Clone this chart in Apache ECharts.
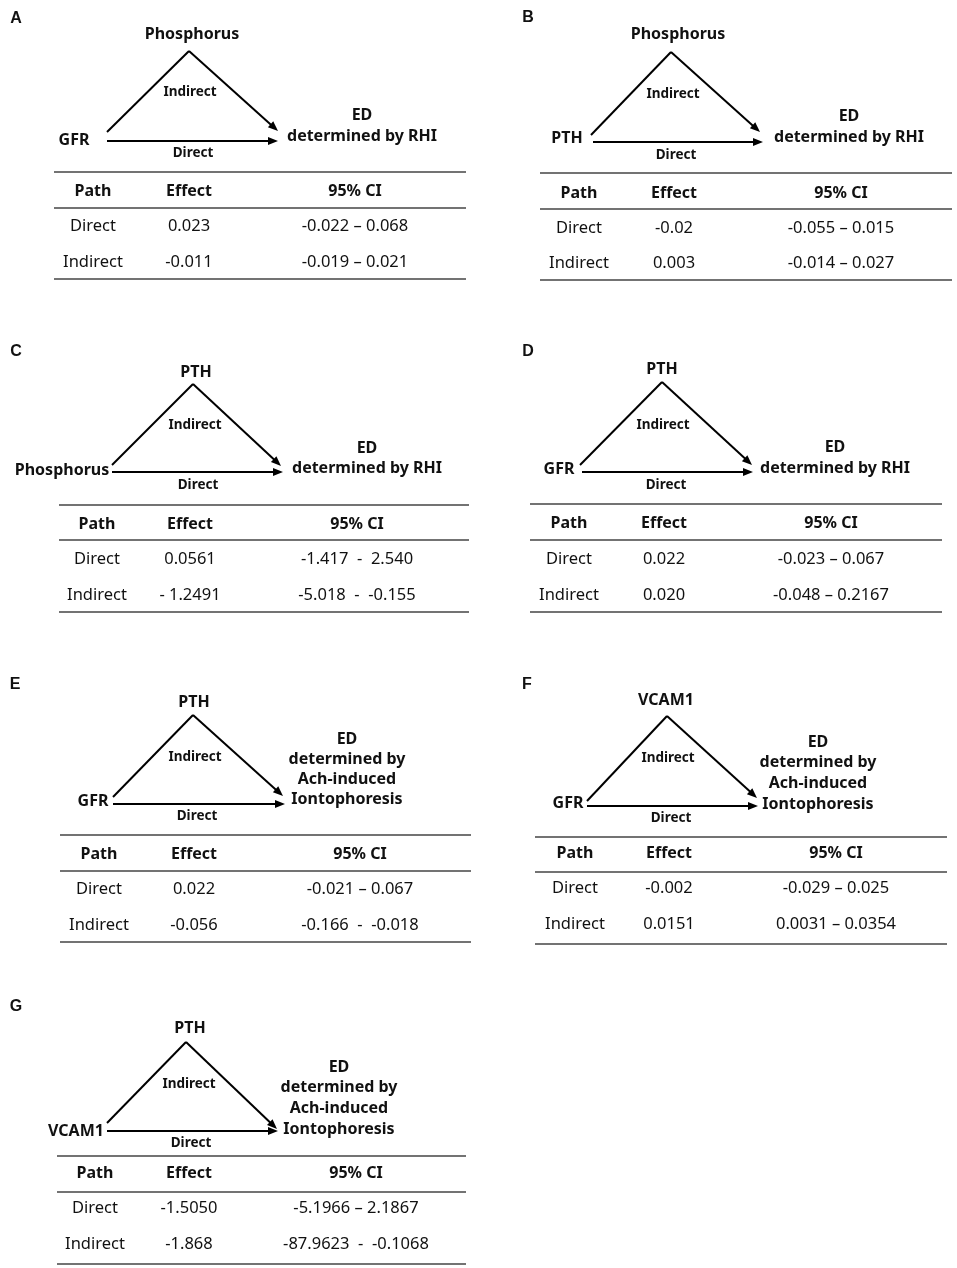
<!DOCTYPE html>
<html>
<head>
<meta charset="utf-8">
<script src="https://cdn.jsdelivr.net/npm/echarts@6/dist/echarts.min.js"></script>
<style>
  html, body { margin: 0; padding: 0; background: #fff; }
  #main { width: 957px; height: 1268px; }
</style>
</head>
<body>
<div id="main"></div>
<script>
// data for the seven mediation panels
var panelIds = ['A', 'B', 'C', 'D', 'E', 'F', 'G'];
var exposures = ['GFR', 'PTH', 'Phosphorus', 'GFR', 'GFR', 'GFR', 'VCAM1'];
var mediators = ['Phosphorus', 'Phosphorus', 'PTH', 'PTH', 'PTH', 'VCAM1', 'PTH'];
var outcomeRHI = 'ED\ndetermined by RHI';
var outcomeAch = 'ED\ndetermined by\nAch-induced\nIontophoresis';
var outcomes = [outcomeRHI, outcomeRHI, outcomeRHI, outcomeRHI, outcomeAch, outcomeAch, outcomeAch];
var pathNames = ['Direct', 'Indirect'];
var tableHeaders = ['Path', 'Effect', '95% CI'];
var directEffects = ['0.023', '-0.02', '0.0561', '0.022', '0.022', '-0.002', '-1.5050'];
var indirectEffects = ['-0.011', '0.003', '- 1.2491', '0.020', '-0.056', '0.0151', '-1.868'];
var directCI = ['-0.022 \u2013 0.068', '-0.055 \u2013 0.015', '-1.417  -  2.540', '-0.023 \u2013 0.067',
                '-0.021 \u2013 0.067', '-0.029 \u2013 0.025', '-5.1966 \u2013 2.1867'];
var indirectCI = ['-0.019 \u2013 0.021', '-0.014 \u2013 0.027', '-5.018  -  -0.155', '-0.048 \u2013 0.2167',
                  '-0.166  -  -0.018', '0.0031 \u2013 0.0354', '-87.9623  -  -0.1068'];

// layout of each panel (pixels)
var layout = [
  { letter: [16, 19], med: [192, 34], apex: [189, 51], left: [107, 132], diagEnd: [278, 131],
    dirY: 141, dirX: [107, 278], expo: [74, 140], ind: [190, 92], dir: [193, 153], out: [362, 115], lh: 21,
    tx: [54, 466], top: 172, hdr: 191, mid: 208, r1: 226, r2: 262, bot: 279, cols: [93, 189, 355] },
  { letter: [528, 18], med: [678, 34], apex: [671, 52], left: [591, 135], diagEnd: [760, 132],
    dirY: 142, dirX: [593, 763], expo: [567, 138], ind: [673, 94], dir: [676, 155], out: [849, 116], lh: 21,
    tx: [540, 952], top: 173, hdr: 193, mid: 209, r1: 228, r2: 263, bot: 280, cols: [579, 674, 841] },
  { letter: [16, 352], med: [196, 372], apex: [193, 384], left: [112, 465], diagEnd: [281, 466],
    dirY: 472, dirX: [112, 283], expo: [62, 470], ind: [195, 425], dir: [198, 485], out: [367, 448], lh: 20,
    tx: [59, 469], top: 505, hdr: 524, mid: 540, r1: 559, r2: 595, bot: 612, cols: [97, 190, 357] },
  { letter: [528, 352], med: [662, 369], apex: [662, 382], left: [580, 465], diagEnd: [752, 465],
    dirY: 472, dirX: [582, 753], expo: [559, 469], ind: [663, 425], dir: [666, 485], out: [835, 447], lh: 21,
    tx: [530, 942], top: 504, hdr: 523, mid: 540, r1: 559, r2: 595, bot: 612, cols: [569, 664, 831] },
  { letter: [15, 685], med: [194, 702], apex: [193, 715], left: [113, 797], diagEnd: [283, 796],
    dirY: 804, dirX: [113, 285], expo: [93, 801], ind: [195, 757], dir: [197, 816], out: [347, 739], lh: 20.3,
    tx: [60, 471], top: 835, hdr: 854, mid: 871, r1: 889, r2: 925, bot: 942, cols: [99, 194, 360] },
  { letter: [527, 685], med: [666, 700], apex: [667, 716], left: [587, 801], diagEnd: [757, 798],
    dirY: 806, dirX: [587, 758], expo: [568, 803], ind: [668, 758], dir: [671, 818], out: [818, 742], lh: 20.7,
    tx: [535, 947], top: 837, hdr: 853, mid: 872, r1: 888, r2: 924, bot: 944, cols: [575, 669, 836] },
  { letter: [16, 1007], med: [190, 1028], apex: [186, 1042], left: [107, 1123], diagEnd: [277, 1129],
    dirY: 1131, dirX: [107, 278], expo: [76, 1131], ind: [189, 1084], dir: [191, 1143], out: [339, 1067], lh: 20.7,
    tx: [57, 466], top: 1156, hdr: 1173, mid: 1192, r1: 1208, r2: 1244, bot: 1264, cols: [95, 189, 356] }
];

var FONT = '"Noto Sans", "Open Sans", sans-serif';
var INK = '#111';

function txt(s, x, y, size, weight, family, align) {
  return {
    type: 'text', silent: true,
    style: {
      text: s, x: x, y: y, fill: INK,
      fontSize: size, fontWeight: weight, fontFamily: family || FONT,
      textAlign: align || 'center', textVerticalAlign: 'middle'
    }
  };
}

function seg(x1, y1, x2, y2, color, w) {
  return {
    type: 'line', silent: true,
    shape: { x1: x1, y1: y1, x2: x2, y2: y2 },
    style: { stroke: color, lineWidth: w }
  };
}

// line with a filled arrow head at the end
function arrow(x1, y1, x2, y2) {
  var dx = x2 - x1, dy = y2 - y1;
  var len = Math.sqrt(dx * dx + dy * dy);
  var ux = dx / len, uy = dy / len;
  var hl = 10, hw = 4;
  var bx = x2 - ux * hl, by = y2 - uy * hl;
  return [
    seg(x1, y1, bx + ux * 2, by + uy * 2, '#000', 2),
    {
      type: 'polygon', silent: true,
      shape: { points: [[x2, y2], [bx - uy * hw, by + ux * hw], [bx + uy * hw, by - ux * hw]] },
      style: { fill: '#000' }
    }
  ];
}

var elements = [];
panelIds.forEach(function (id, i) {
  var L = layout[i];
  elements.push(txt(id, L.letter[0], L.letter[1], 16, 'bold', '"Liberation Sans", Arial, sans-serif'));
  // diagram
  elements.push(txt(mediators[i], L.med[0], L.med[1], 16, 'bold'));
  elements.push(txt(exposures[i], L.expo[0], L.expo[1], 16, 'bold'));
  elements.push(seg(L.left[0], L.left[1], L.apex[0], L.apex[1], '#000', 2));
  elements = elements.concat(arrow(L.apex[0], L.apex[1], L.diagEnd[0], L.diagEnd[1]));
  elements = elements.concat(arrow(L.dirX[0], L.dirY, L.dirX[1], L.dirY));
  elements.push(txt('Indirect', L.ind[0], L.ind[1], 13.5, 'bold'));
  elements.push(txt('Direct', L.dir[0], L.dir[1], 13.5, 'bold'));
  outcomes[i].split('\n').forEach(function (line, k) {
    elements.push(txt(line, L.out[0], L.out[1] + k * L.lh, 16, 'bold'));
  });
  // table
  elements.push(seg(L.tx[0], L.top, L.tx[1], L.top, '#444', 1.6));
  elements.push(seg(L.tx[0], L.mid, L.tx[1], L.mid, '#444', 1.6));
  elements.push(seg(L.tx[0], L.bot, L.tx[1], L.bot, '#444', 1.6));
  tableHeaders.forEach(function (h, c) {
    elements.push(txt(h, L.cols[c], L.hdr, 16, 'bold'));
  });
  var rows = [
    [pathNames[0], directEffects[i], directCI[i]],
    [pathNames[1], indirectEffects[i], indirectCI[i]]
  ];
  rows.forEach(function (r, k) {
    var y = k === 0 ? L.r1 : L.r2;
    r.forEach(function (cell, c) {
      elements.push(txt(cell, L.cols[c], y, 16.5, 'normal'));
    });
  });
});

var chart = echarts.init(document.getElementById('main'));
chart.setOption({
  backgroundColor: '#fff',
  animation: false,
  graphic: { elements: elements }
});
</script>
</body>
</html>
